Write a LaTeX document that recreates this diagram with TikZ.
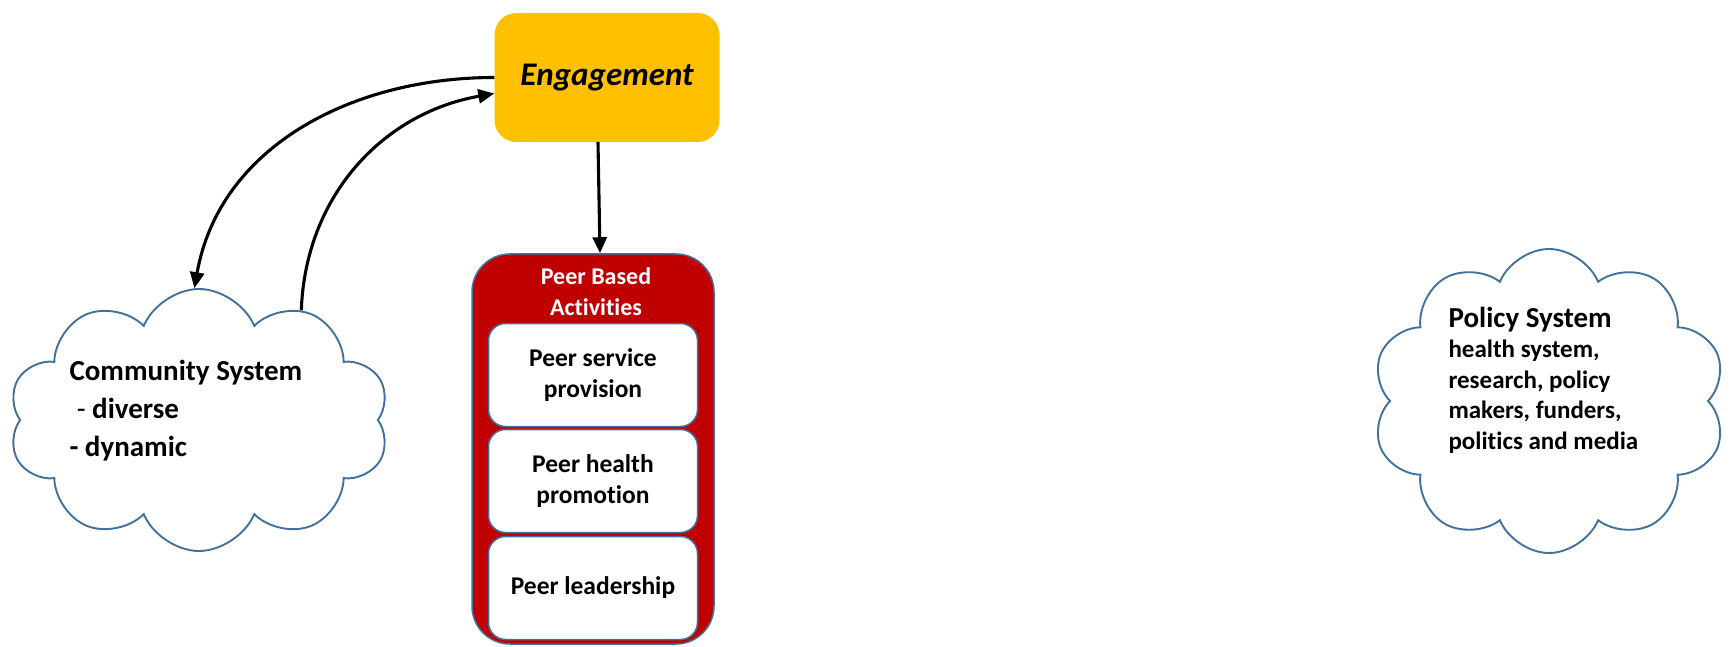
\documentclass[tikz,border=0pt]{standalone}
\usepackage{fontspec}
\setmainfont{Carlito}[Ligatures=NoCommon]
\usetikzlibrary{shapes.symbols,arrows.meta}
\definecolor{engfill}{RGB}{255,192,0}
\definecolor{peerred}{RGB}{192,0,0}
\definecolor{edgeblue}{RGB}{65,113,156}
\begin{document}
\begin{tikzpicture}[x=1pt,y=-1pt,
  every node/.style={font=\bfseries},
  cloudy/.style={cloud,cloud puffs=10,cloud puff arc=135,cloud ignores aspect,draw=edgeblue,line width=1.9pt,fill=white,inner sep=0pt},
  peerbox/.style={rectangle,rounded corners=17pt,draw=edgeblue,line width=1.5pt,fill=white,minimum width=209pt,minimum height=103pt,align=center,font=\bfseries\fontsize{25.5}{31}\selectfont},
  link/.style={line width=3.1pt,-{Triangle[length=16pt,width=14pt]}}]
\useasboundingbox (0,0) rectangle (1735,647);
\node[rectangle,rounded corners=22pt,fill=engfill,minimum width=225pt,minimum height=129pt,font=\bfseries\itshape\fontsize{33}{40}\selectfont] (eng) at (607,77.5) {Engagement};
\node[rectangle,rounded corners=38pt,fill=peerred,draw=edgeblue,line width=1.5pt,minimum width=242pt,minimum height=390pt] (peer) at (593,449) {};
\node[text=white,align=center,font=\bfseries\fontsize{24}{31}\selectfont] (peertitle) at (596,292) {Peer Based\\Activities};
\node[peerbox] (serv) at (593,375) {Peer service\\provision};
\node[peerbox] (promo) at (593,481) {Peer health\\promotion};
\node[peerbox] (lead) at (593,588) {Peer leadership};
\node[cloudy,minimum width=381pt,minimum height=262pt] (comm) at (199,420) {};
\node[anchor=west,align=left,font=\bfseries\fontsize{29}{38}\selectfont] (commtext) at (66,411) {Community System\\\hspace*{0.25em}{\mdseries -} diverse\\- dynamic};
\node[cloudy,minimum width=354pt,minimum height=304pt] (pol) at (1549,401) {};
\node[anchor=west,align=left,font=\bfseries\fontsize{25}{30.5}\selectfont] (poltext) at (1445,380) {{\fontsize{29}{34}\selectfont Policy System}\\health system,\\research, policy\\makers, funders,\\politics and media};
\draw[link] (eng.west) to[out=180,in=80] (comm.92);
\draw[link] (comm.47) to[out=88,in=190] ([yshift=-16pt]eng.west);
\draw[link] ([xshift=-9pt]eng.south) -- ([xshift=7pt]peer.north);
\end{tikzpicture}
\end{document}
